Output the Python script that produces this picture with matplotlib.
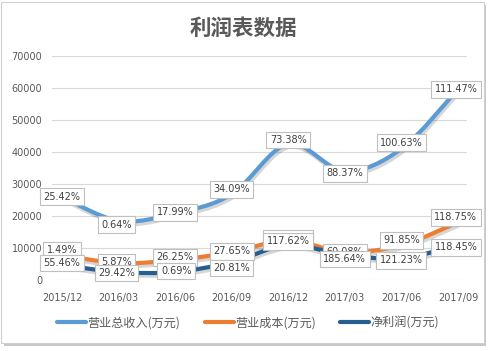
import matplotlib
matplotlib.use("Agg")
from matplotlib import pyplot as plt
from matplotlib.path import Path
from matplotlib.patches import PathPatch, Rectangle
import matplotlib.patheffects as pe
import numpy as np

plt.rcParams['font.family'] = ['DejaVu Sans', 'Noto Sans CJK SC']

# data
periods = ["2015/12", "2016/03", "2016/06", "2016/09",
           "2016/12", "2017/03", "2017/06", "2017/09"]
revenue = [26000, 18500, 20800, 26800, 42500, 34000, 41000, 59600]
cost = [7800, 5300, 6200, 8700, 12400, 8700, 10900, 18000]
profit = [4700, 2500, 2500, 5600, 10900, 7800, 6800, 10900]

revenue_growth = ["25.42%", "0.64%", "17.99%", "34.09%",
                  "73.38%", "88.37%", "100.63%", "111.47%"]
cost_growth = ["1.49%", "5.87%", "26.25%", "27.65%",
               "120.65%", "60.08%", "91.85%", "118.75%"]
profit_growth = ["55.46%", "29.42%", "0.69%", "20.81%",
                 "117.62%", "185.64%", "121.23%", "118.45%"]

series_names = ["营业总收入(万元)", "营业成本(万元)", "净利润(万元)"]
colors = ["#5B9BD5", "#ED7D31", "#255E91"]

# label offsets from the point, in pixels (dx, dy up)
rev_off = [(0, 0), (-2, -4), (0, 1), (0, 5), (0, 4), (0, -2), (0, 6), (-2, 0)]
cost_off = [(0, 5), (-2, 1), (0, 3), (0, 1), (0, 2), (0, 0), (0, 5), (-2, 5)]
prof_off = [(0, 2), (-2, -1), (1, 1), (0, -6), (0, 4), (0, -4), (0, -2), (-2, -2)]

W, H = 491, 351
fig = plt.figure(figsize=(W / 100, H / 100), dpi=100)
ax = fig.add_axes([52 / W, 1 - 280 / H, (467 - 52) / W, 224 / H])

x = np.arange(len(periods))


def smooth_path(xs, ys):
    # excel-like smoothed line as cubic bezier segments
    pts = np.column_stack([xs, ys]).astype(float)
    n = len(pts)
    verts = [pts[0]]
    codes = [Path.MOVETO]
    for i in range(n - 1):
        p0 = pts[max(i - 1, 0)]
        p1 = pts[i]
        p2 = pts[i + 1]
        p3 = pts[min(i + 2, n - 1)]
        c1 = p1 + (p2 - p0) / 6
        c2 = p2 - (p3 - p1) / 6
        verts += [c1, c2, p2]
        codes += [Path.CURVE4] * 3
    return Path(verts, codes)


for ys, c in zip([revenue, cost, profit], colors):
    patch = PathPatch(smooth_path(x, ys), facecolor="none", edgecolor=c,
                      lw=3.0, capstyle="round", zorder=3,
                      path_effects=[pe.SimpleLineShadow(offset=(1.0, -2.0),
                                                        shadow_color="k",
                                                        alpha=0.16),
                                    pe.Normal()])
    ax.add_patch(patch)
    # legend handle
    ax.plot([], [], color=c, lw=3.0, solid_capstyle="round")

px2pt = 0.72
for ys, labels, offs, z in [(revenue, revenue_growth, rev_off, 5),
                            (cost, cost_growth, cost_off, 6),
                            (profit, profit_growth, prof_off, 7)]:
    for xi, yi, lab, (dx, dy) in zip(x, ys, labels, offs):
        ax.annotate(lab, (xi, yi), xytext=(dx * px2pt, dy * px2pt),
                    textcoords="offset points", ha="center", va="center",
                    fontsize=7, color="#404040", zorder=z,
                    bbox=dict(boxstyle="square,pad=0.35", fc="white",
                              ec="#BFBFBF", lw=0.8))

ax.set_xlim(-0.177, 7.16)
ax.set_ylim(0, 70000)
ax.set_yticks(range(0, 70001, 10000))
ax.set_xticks(x)
ax.set_xticklabels(periods)
ax.tick_params(length=0, labelsize=7, colors="#595959")
ax.tick_params(axis="x", pad=9)
ax.tick_params(axis="y", pad=7)
ax.grid(axis="y", color="#D9D9D9", lw=0.8)
ax.set_axisbelow(True)
for s in ax.spines.values():
    s.set_visible(False)

fig.text(243 / W, 1 - 28 / H, "利润表数据", ha="center", va="center",
         fontsize=15.5, fontweight="bold", color="#595959",
         family=["Noto Sans CJK SC"])

leg = fig.legend(ax.lines, series_names, loc="center",
                 bbox_to_anchor=(248 / W, 1 - 323 / H), ncol=3, frameon=False,
                 prop={"family": ["Noto Sans CJK SC"], "size": 8.7},
                 handlelength=2.4, handletextpad=0.1, columnspacing=2.0,
                 labelcolor="#595959")

# chart border with soft shadow
fig.patches.append(Rectangle((4 / W, 1 - 346 / H), 482 / W, 341 / H,
                             transform=fig.transFigure, fc="#C8C8C8",
                             ec="none", zorder=-2))
fig.patches.append(Rectangle((1 / W, 1 - 343 / H), 483 / W, 341 / H,
                             transform=fig.transFigure, fc="white",
                             ec="#D0D0D0", lw=0.8, zorder=-1))

fig.savefig("out.png", dpi=100)
